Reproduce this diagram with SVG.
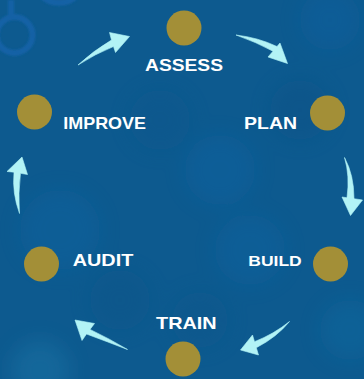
<svg xmlns="http://www.w3.org/2000/svg" width="364" height="379" viewBox="0 0 364 379">
  <defs>
    <filter id="blur" x="-50%" y="-50%" width="200%" height="200%">
      <feGaussianBlur stdDeviation="10"/>
    </filter>
    <filter id="blur2" x="-50%" y="-50%" width="200%" height="200%">
      <feGaussianBlur stdDeviation="1.2"/>
    </filter>
    <style>
      .dot { fill: #a38f37; }
      .lbl { font-family: "Liberation Sans", Arial, sans-serif; font-weight: bold; font-size: 17px; fill: #ffffff; }
      .arrow { fill: #b2f3f6; stroke: #b2f3f6; stroke-width: 0.6; stroke-linejoin: round; }
    </style>
  </defs>

  <g id="background">
    <rect x="0" y="0" width="364" height="379" fill="#0d5a8f"/>
    <g filter="url(#blur)" opacity="0.45">
      <circle cx="60" cy="230" r="40" fill="#0f63a0"/>
      <circle cx="220" cy="170" r="35" fill="#1063a2"/>
      <circle cx="120" cy="300" r="30" fill="#0b5488"/>
      <circle cx="300" cy="110" r="30" fill="#0a5185"/>
      <circle cx="250" cy="250" r="35" fill="#1064a0"/>
      <circle cx="160" cy="120" r="30" fill="#0c578c"/>
      <circle cx="40" cy="370" r="30" fill="#1a77a8"/>
      <circle cx="350" cy="330" r="30" fill="#0f6aa0"/>
      <circle cx="330" cy="20" r="30" fill="#0f60a0"/>
      <circle cx="200" cy="320" r="28" fill="#0b568b"/>
    </g>
    <g filter="url(#blur2)" fill="none" stroke="#1864aa" stroke-width="6" opacity="0.85">
      <circle cx="14.5" cy="35" r="18"/>
      <line x1="11" y1="0" x2="11" y2="16"/>
      <path d="M42,-4 A20,14 0 0 0 76,-4"/>
    </g>
  </g>

  <g id="connectors">
    <path class="arrow" d="M78,65 Q93,51 111.5,40 L109.5,32.5 L129.5,36.5 L115.5,52.5 L113.5,46.5 Q95,54 78,65 Z"/>
    <path class="arrow" d="M236,35 Q258,37.5 277,46.5 L280,43 L287.5,63.5 L268,57 L273,51.2 Q256,42 236,35 Z"/>
    <path class="arrow" d="M344.5,157.5 Q350,176 347,197.7 L342,197 L350.5,215.5 L362.5,200 L354,198.7 Q354,175 344.5,157.5 Z"/>
    <path class="arrow" d="M289.5,321.5 Q274,334 254.5,341.7 L252.5,335 L240.5,350 L258.5,355 L256.3,347.7 Q277,337 289.5,321.5 Z"/>
    <path class="arrow" d="M127.5,349.5 Q108,342 86.5,334 L82,340.5 L75,320 L94.5,323.5 L90,329.4 Q110,339 127.5,349.5 Z"/>
    <path class="arrow" d="M19.5,213.5 Q12,193 14,172.2 L7,171.5 L22,157 L27.5,174.5 L20.5,173.3 Q18,193 19.5,213.5 Z"/>
  </g>

  <g id="node-assess">
    <circle class="dot" cx="184" cy="28" r="17.5"/>
    <text class="lbl" x="145" y="70.5" textLength="78" lengthAdjust="spacingAndGlyphs">ASSESS</text>
  </g>
  <g id="node-plan">
    <circle class="dot" cx="327.5" cy="113" r="17.5"/>
    <text class="lbl" x="244" y="129" textLength="53" lengthAdjust="spacingAndGlyphs">PLAN</text>
  </g>
  <g id="node-build">
    <circle class="dot" cx="330.5" cy="264" r="17.5"/>
    <text class="lbl" x="248.3" y="266" textLength="53.4" lengthAdjust="spacingAndGlyphs" style="font-size:15.5px">BUILD</text>
  </g>
  <g id="node-train">
    <circle class="dot" cx="183" cy="359" r="17.5"/>
    <text class="lbl" x="156" y="328.7" textLength="60.7" lengthAdjust="spacingAndGlyphs">TRAIN</text>
  </g>
  <g id="node-audit">
    <circle class="dot" cx="41.5" cy="264" r="17.5"/>
    <text class="lbl" x="72.7" y="266" textLength="60.6" lengthAdjust="spacingAndGlyphs">AUDIT</text>
  </g>
  <g id="node-improve">
    <circle class="dot" cx="34.5" cy="112" r="17.5"/>
    <text class="lbl" x="63.3" y="129" textLength="82.7" lengthAdjust="spacingAndGlyphs">IMPROVE</text>
  </g>
</svg>
